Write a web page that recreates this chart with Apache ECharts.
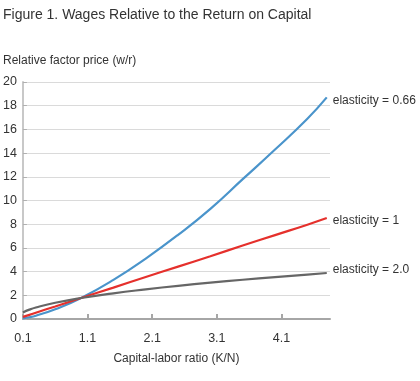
<!DOCTYPE html>
<html><head><meta charset="utf-8">
<script src="https://cdn.jsdelivr.net/npm/echarts@6/dist/echarts.min.js"></script>
<style>html,body{margin:0;padding:0;background:#fff}#c{width:420px;height:381px}</style>
</head><body><div id="c"></div>
<script>
var xTicks = [0.1, 1.1, 2.1, 3.1, 4.1];
var kValues = [0.1, 0.2, 0.3, 0.6, 1.0, 1.5, 2.0, 2.5, 3.0, 3.5, 4.0, 4.5, 4.8];
var elast066 = [0.06, 0.15, 0.28, 0.82, 1.77, 3.3, 5.1, 7.1, 9.3, 11.8, 14.3, 16.9, 18.7];
var elast1   = [0.18, 0.35, 0.53, 1.06, 1.77, 2.65, 3.54, 4.42, 5.3, 6.2, 7.08, 7.96, 8.52];
var elast2   = [0.55, 0.79, 0.97, 1.37, 1.77, 2.17, 2.5, 2.8, 3.07, 3.31, 3.54, 3.75, 3.88];
var seriesNames = ['elasticity = 0.66', 'elasticity = 1', 'elasticity = 2.0'];
var colors = ['#4a94cb', '#e5302c', '#666666'];

function pairs(ys){ return kValues.map(function(k,i){ return [k, ys[i]]; }); }
var allData = [elast066, elast1, elast2];
var labelOffsets = [[0, 3], [0, 3], [0, -3]];

var chart = echarts.init(document.getElementById('c'));
chart.setOption({
  animation: false,
  textStyle: {fontFamily: 'Liberation Sans, Arial, sans-serif'},
  title: {
    text: 'Figure 1. Wages Relative to the Return on Capital',
    left: -2, top: 3,
    textStyle: {fontSize: 14, fontWeight: 'normal', color: '#333'}
  },
  grid: {left: 21, right: 90, top: 82, bottom: 62, containLabel: false},
  xAxis: {
    type: 'value', min: 0.1, max: 4.85,
    name: 'Capital-labor ratio (K/N)', nameLocation: 'middle', nameGap: 34,
    nameTextStyle: {fontSize: 12, color: '#333'},
    axisLine: {lineStyle: {color: '#a6a6a6', width: 2}},
    axisTick: {show: true, inside: true, length: 5, customValues: xTicks, lineStyle: {color: '#a6a6a6', width: 2}},
    axisLabel: {customValues: xTicks, fontSize: 12.5, color: '#333', margin: 13,
      formatter: function(v){ return v.toFixed(1); }},
    splitLine: {show: false}
  },
  yAxis: {
    type: 'value', min: 0, max: 20, interval: 2,
    axisLine: {show: true, lineStyle: {color: '#c8c8c8', width: 2}},
    axisTick: {show: true, inside: true, length: 4, lineStyle: {color: '#b0b0b0'}},
    axisLabel: {fontSize: 12.5, color: '#333', margin: 6},
    splitLine: {lineStyle: {color: '#dadada', width: 1}}
  },
  graphic: [{
    type: 'text', left: 3, top: 55,
    style: {text: 'Relative factor price (w/r)', fontSize: 12, fill: '#333', fontFamily: 'Liberation Sans, Arial, sans-serif'}
  }],
  series: allData.map(function(d, i){
    return {
      type: 'line', name: seriesNames[i], data: pairs(d), smooth: true,
      showSymbol: false, symbol: 'none',
      lineStyle: {color: colors[i], width: 2.2},
      endLabel: {show: true, formatter: seriesNames[i], fontSize: 12, color: '#333', distance: 6, offset: labelOffsets[i]},
      z: 2 + i
    };
  })
});
</script></body></html>
